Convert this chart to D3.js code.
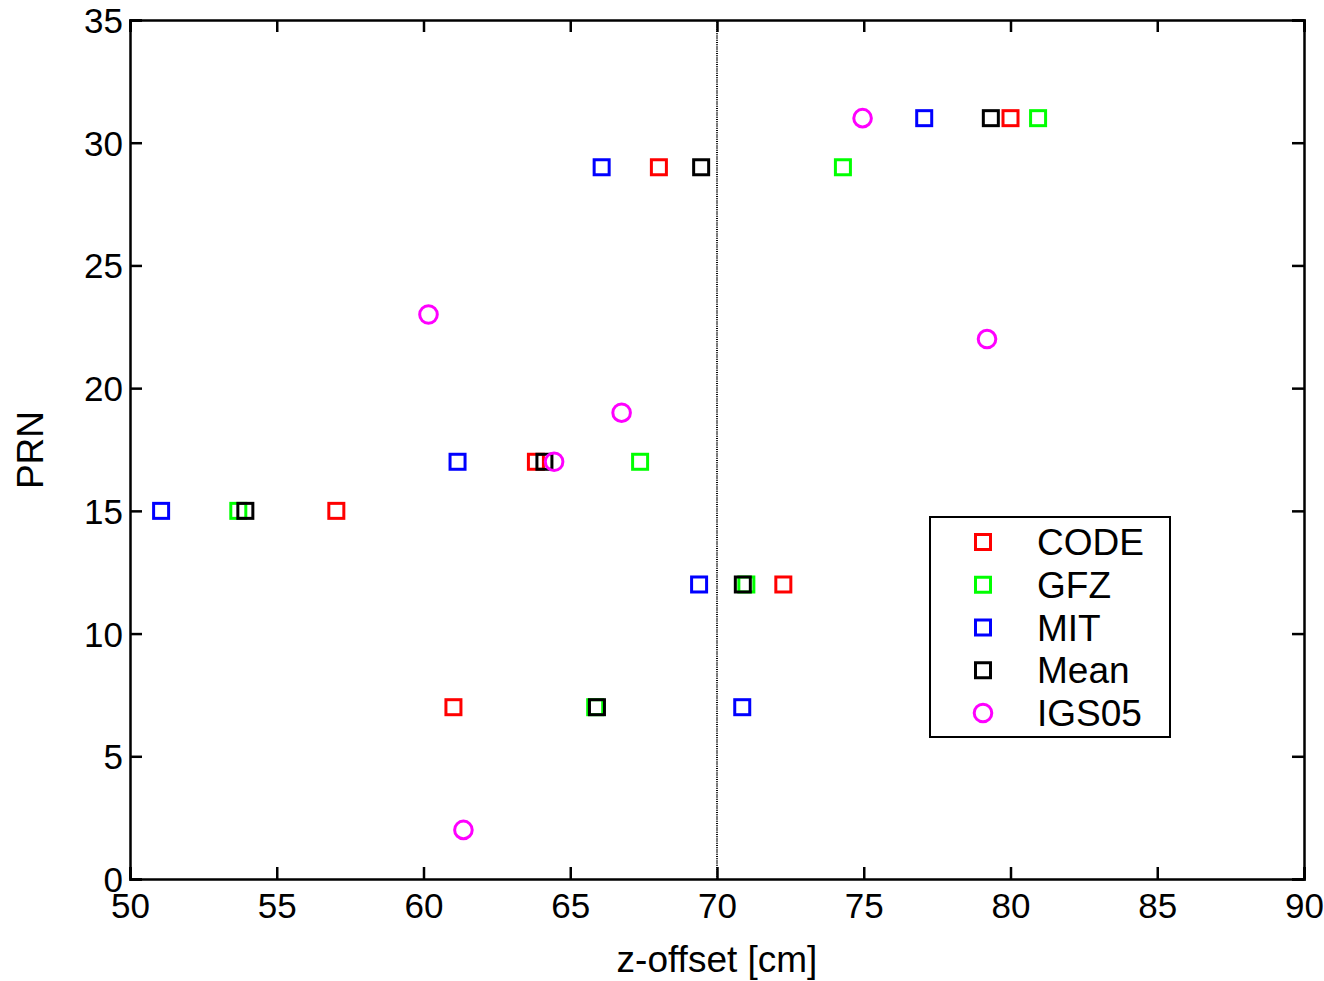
<!DOCTYPE html>
<html><head><meta charset="utf-8">
<script src="https://cdn.jsdelivr.net/npm/d3@7"></script>
<style>body{margin:0;background:#fff}svg{display:block}text{font-family:"Liberation Sans",Arial,sans-serif;fill:#000}</style>
</head><body><svg id="c" width="1324" height="981"></svg>
<script>
const prnCODE = [7, 12, 15, 17, 29, 31];
const valCODE = [61.02, 72.26, 57.03, 63.83, 68.02, 80.0];
const prnGFZ = [7, 12, 15, 17, 29, 31];
const valGFZ = [65.85, 71.0, 53.69, 67.38, 74.29, 80.94];
const prnMIT = [7, 12, 15, 17, 29, 31];
const valMIT = [70.86, 69.39, 51.06, 61.16, 66.07, 77.06];
const prnMean = [7, 12, 15, 17, 29, 31];
const valMean = [65.91, 70.88, 53.93, 64.12, 69.46, 79.33];
const prnIGS = [2, 17, 19, 22, 23, 31];
const valIGS = [61.36, 64.45, 66.75, 79.2, 60.17, 74.96];
const xTicks = [50, 55, 60, 65, 70, 75, 80, 85, 90];
const yTicks = [0, 5, 10, 15, 20, 25, 30, 35];
const refLine = 70;
const seriesNames = ["CODE", "GFZ", "MIT", "Mean", "IGS05"];
const seriesColors = ["#ff0000", "#00ff00", "#0000ff", "#000000", "#ff00ff"];
const seriesShapes = ["square", "square", "square", "square", "circle"];

const series = [
  {prn: prnCODE, val: valCODE},
  {prn: prnGFZ, val: valGFZ},
  {prn: prnMIT, val: valMIT},
  {prn: prnMean, val: valMean},
  {prn: prnIGS, val: valIGS}
].map((s, i) => ({name: seriesNames[i], color: seriesColors[i], shape: seriesShapes[i],
  pts: s.prn.map((p, j) => ({x: s.val[j], y: p}))}));

const L = 130, R = 1304, T = 20, B = 879;
const svg = d3.select("#c");
svg.append("rect").attr("width", 1324).attr("height", 981).attr("fill", "#fff");
const x = d3.scaleLinear().domain([50, 90]).range([L, R]);
const y = d3.scaleLinear().domain([0, 35]).range([B, T]);

function marker(g, shape, color) {
  if (shape === "square") {
    g.append("rect").attr("x", -7.5).attr("y", -7.5).attr("width", 15).attr("height", 15)
      .attr("fill", "none").attr("stroke", color).attr("stroke-width", 3);
  } else {
    g.append("circle").attr("r", 8.8).attr("fill", "none").attr("stroke", color).attr("stroke-width", 3);
  }
}

// reference line
svg.append("line").attr("x1", x(refLine)).attr("x2", x(refLine)).attr("y1", y(35)).attr("y2", y(0))
  .attr("stroke", "#000").attr("stroke-width", 2).attr("stroke-dasharray", "1,1.2");

// data
series.forEach(s => {
  svg.append("g").selectAll("g").data(s.pts).join("g")
    .attr("transform", d => `translate(${x(d.x)},${y(d.y)})`)
    .each(function() { marker(d3.select(this), s.shape, s.color); });
});

// axes (ticks inside, box)
const fsTick = 35, fsLab = 37;
const axB = svg.append("g").attr("transform", `translate(0,${B})`)
  .call(d3.axisBottom(x).tickValues(xTicks).tickSize(-12).tickFormat(d3.format("d")));
const axT = svg.append("g").attr("transform", `translate(0,${T})`)
  .call(d3.axisTop(x).tickValues(xTicks).tickSize(-12).tickFormat(""));
const axL = svg.append("g").attr("transform", `translate(${L},0)`)
  .call(d3.axisLeft(y).tickValues(yTicks).tickSize(-12).tickFormat(d3.format("d")));
const axR = svg.append("g").attr("transform", `translate(${R},0)`)
  .call(d3.axisRight(y).tickValues(yTicks).tickSize(-12).tickFormat(""));
[axB, axT, axL, axR].forEach(a => {
  a.select(".domain").attr("stroke", "#000").attr("stroke-width", 2.5);
  a.selectAll(".tick line").attr("stroke", "#000").attr("stroke-width", 2.5);
  a.selectAll(".tick text").attr("font-size", fsTick).attr("font-family", '"Liberation Sans",Arial,sans-serif').attr("fill", "#000");
});
axB.selectAll(".tick text").attr("dy", null).attr("y", 39);
axL.selectAll(".tick text").attr("x", -7).attr("dy", null).attr("y", d => 12.5);

// labels
svg.append("text").attr("x", (L + R) / 2).attr("y", 972).attr("text-anchor", "middle")
  .attr("font-size", fsLab).text("z-offset [cm]");
svg.append("text").attr("transform", `translate(43,450) rotate(-90)`).attr("text-anchor", "middle")
  .attr("font-size", fsLab).text("PRN");

// legend
const lg = svg.append("g");
lg.append("rect").attr("x", 930).attr("y", 517).attr("width", 240).attr("height", 220)
  .attr("fill", "#fff").attr("stroke", "#000").attr("stroke-width", 2);
series.forEach((s, i) => {
  const cy = 542 + i * 42.75;
  const g = lg.append("g").attr("transform", `translate(983,${cy})`);
  marker(g, s.shape, s.color);
  lg.append("text").attr("x", 1037).attr("y", cy + 13).attr("font-size", fsLab).text(s.name);
});
</script></body></html>
